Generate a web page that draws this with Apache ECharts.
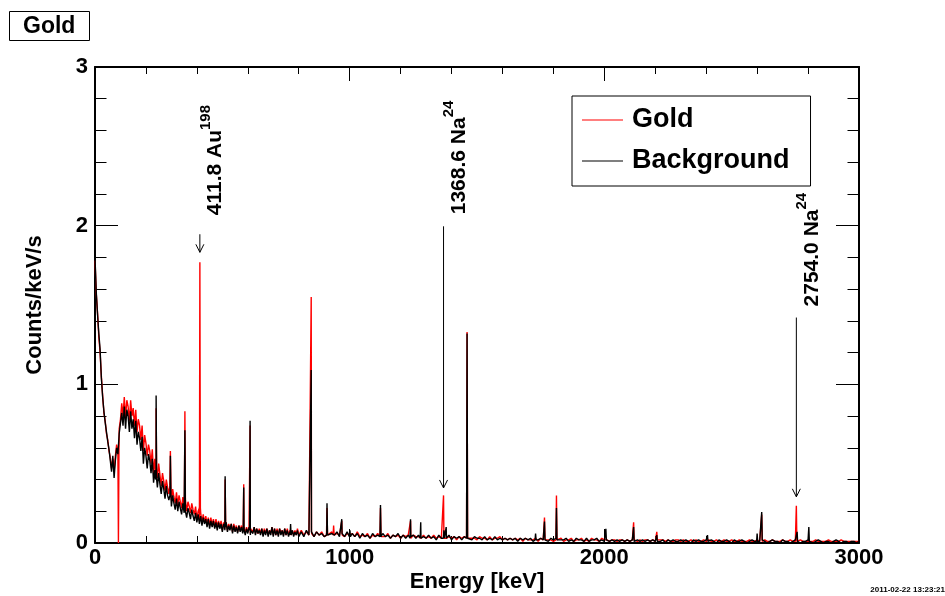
<!DOCTYPE html>
<html>
<head>
<meta charset="utf-8">
<script src="https://cdn.jsdelivr.net/npm/echarts@6/dist/echarts.min.js"></script>
<style>
  html, body { margin: 0; padding: 0; background: #fff; }
  #chart { width: 945px; height: 596px; }
</style>
</head>
<body>
<div id="chart"></div>
<script>
const FONT = '"Liberation Sans", Arial, Helvetica, sans-serif';

// Continuum, 0–800 keV in 5 keV steps (counts/keV/s)
const lowStart = 0, lowStep = 5;
const goldLow = [
  1.78,1.57,1.45,1.30,1.20,1.05,0.93,0.82,0.77,0.69,0.65,0.58,0.54,0.47,0.53,0.45,0.55,0.62,0.58,0.72,
  0.78,0.88,0.80,0.92,0.79,0.90,0.86,0.77,0.90,0.80,0.85,0.74,0.84,0.70,0.78,0.74,0.65,0.74,0.58,0.68,
  0.63,0.55,0.62,0.58,0.50,0.59,0.44,0.53,0.48,0.41,0.50,0.43,0.36,0.44,0.39,0.33,0.40,0.35,0.31,0.37,
  0.27,0.34,0.29,0.25,0.32,0.24,0.30,0.26,0.22,0.29,0.23,0.27,0.20,0.26,0.23,0.19,0.25,0.21,0.18,0.23,
  0.15,0.20,0.14,0.19,0.13,0.18,0.13,0.17,0.12,0.16,0.11,0.16,0.11,0.15,0.10,0.15,0.10,0.14,0.10,0.14,
  0.08,0.13,0.09,0.13,0.08,0.12,0.09,0.12,0.07,0.12,0.08,0.11,0.07,0.11,0.08,0.11,0.07,0.10,0.06,0.10,
  0.07,0.10,0.06,0.10,0.07,0.10,0.06,0.09,0.06,0.09,0.06,0.09,0.05,0.09,0.06,0.09,0.05,0.08,0.06,0.10,
  0.05,0.09,0.05,0.09,0.05,0.09,0.06,0.08,0.05,0.09,0.05,0.09,0.05,0.08,0.05,0.08,0.05,0.08,0.05,0.09,0.05
];
const bkgLow = [
  1.80,1.58,1.44,1.32,1.22,1.04,0.92,0.83,0.76,0.70,0.64,0.59,0.52,0.45,0.55,0.41,0.52,0.60,0.56,0.69,
  0.70,0.82,0.74,0.86,0.72,0.84,0.80,0.70,0.83,0.72,0.78,0.66,0.77,0.62,0.70,0.66,0.58,0.67,0.50,0.60,
  0.55,0.47,0.56,0.52,0.44,0.53,0.38,0.46,0.42,0.35,0.44,0.37,0.31,0.39,0.34,0.28,0.36,0.30,0.27,0.33,
  0.23,0.30,0.25,0.21,0.28,0.20,0.26,0.22,0.18,0.25,0.19,0.23,0.16,0.22,0.19,0.15,0.21,0.17,0.14,0.19,
  0.13,0.18,0.12,0.17,0.11,0.16,0.12,0.15,0.10,0.15,0.09,0.14,0.10,0.14,0.09,0.13,0.08,0.13,0.09,0.12,
  0.07,0.12,0.08,0.13,0.07,0.11,0.08,0.12,0.06,0.11,0.07,0.10,0.06,0.11,0.07,0.10,0.06,0.10,0.05,0.09,
  0.06,0.10,0.05,0.09,0.06,0.10,0.05,0.09,0.06,0.08,0.05,0.09,0.04,0.08,0.05,0.09,0.04,0.08,0.05,0.10,
  0.04,0.09,0.05,0.08,0.04,0.09,0.05,0.08,0.04,0.09,0.05,0.08,0.04,0.07,0.05,0.08,0.04,0.07,0.05,0.08,0.04
];

// Continuum, 810–3000 keV in 10 keV steps
const highStart = 810, highStep = 10;
const goldHigh = [
  0.08,0.05,0.07,0.05,0.08,0.04,0.07,0.05,0.07,0.04,0.06,0.05,0.07,0.04,0.06,0.05,0.07,0.04,0.06,0.05,
  0.06,0.04,0.07,0.04,0.05,0.04,0.06,0.03,0.05,0.04,0.06,0.03,0.05,0.04,0.06,0.03,0.05,0.04,0.05,0.03,
  0.05,0.04,0.05,0.03,0.05,0.04,0.04,0.03,0.05,0.03,0.04,0.03,0.05,0.03,0.04,0.03,0.05,0.03,0.04,0.03,
  0.04,0.02,0.04,0.03,0.04,0.02,0.04,0.03,0.03,0.02,0.04,0.03,0.03,0.02,0.04,0.02,0.03,0.03,0.04,0.02,
  0.03,0.02,0.03,0.02,0.03,0.02,0.03,0.01,0.03,0.02,0.02,0.02,0.03,0.01,0.03,0.02,0.03,0.02,0.02,0.01,
  0.02,0.02,0.03,0.01,0.02,0.02,0.03,0.01,0.02,0.02,0.03,0.01,0.02,0.01,0.03,0.02,0.02,0.01,0.03,0.02,
  0.02,0.01,0.02,0.02,0.01,0.02,0.02,0.01,0.02,0.01,0.02,0.02,0.01,0.02,0.01,0.02,0.02,0.01,0.02,0.01,
  0.01,0.02,0.02,0.01,0.02,0.01,0.01,0.02,0.02,0.01,0.02,0.01,0.01,0.02,0.01,0.02,0.01,0.01,0.02,0.01,
  0.02,0.01,0.01,0.02,0.01,0.01,0.02,0.01,0.01,0.02,0.01,0.01,0.02,0.01,0.01,0.01,0.02,0.01,0.01,0.02,
  0.01,0.01,0.02,0.01,0.01,0.02,0.01,0.01,0.01,0.02,0.01,0.01,0.02,0.01,0.01,0.01,0.02,0.01,0.01,0.01,
  0.01,0.01,0.02,0.01,0.01,0.01,0.01,0.02,0.01,0.01,0.01,0.01,0.02,0.01,0.01,0.01,0.01,0.01,0.01,0.01
];
const bkgHigh = [
  0.07,0.04,0.08,0.05,0.07,0.04,0.07,0.05,0.06,0.04,0.07,0.04,0.06,0.05,0.07,0.04,0.06,0.04,0.07,0.04,
  0.06,0.04,0.06,0.03,0.06,0.04,0.05,0.03,0.06,0.04,0.05,0.03,0.06,0.04,0.05,0.03,0.05,0.04,0.06,0.03,
  0.05,0.03,0.05,0.04,0.05,0.03,0.05,0.03,0.04,0.03,0.05,0.03,0.04,0.02,0.05,0.03,0.04,0.03,0.05,0.02,
  0.04,0.03,0.04,0.02,0.04,0.03,0.04,0.02,0.04,0.03,0.03,0.02,0.04,0.02,0.03,0.02,0.04,0.02,0.03,0.02,
  0.03,0.02,0.03,0.02,0.03,0.01,0.03,0.02,0.03,0.02,0.03,0.01,0.03,0.02,0.03,0.02,0.02,0.01,0.03,0.02,
  0.03,0.01,0.02,0.02,0.03,0.01,0.02,0.01,0.03,0.02,0.02,0.01,0.03,0.01,0.02,0.02,0.03,0.01,0.02,0.01,
  0.02,0.01,0.02,0.01,0.02,0.01,0.02,0.01,0.02,0.01,0.02,0.01,0.02,0.01,0.02,0.01,0.02,0.01,0.02,0.01,
  0.02,0.01,0.02,0.00,0.02,0.01,0.02,0.01,0.01,0.02,0.01,0.02,0.01,0.00,0.02,0.01,0.02,0.01,0.01,0.02,
  0.01,0.02,0.01,0.00,0.02,0.01,0.01,0.02,0.01,0.00,0.02,0.01,0.01,0.02,0.01,0.00,0.01,0.02,0.01,0.01,
  0.01,0.02,0.01,0.00,0.01,0.02,0.01,0.01,0.00,0.02,0.01,0.01,0.00,0.01,0.02,0.01,0.00,0.01,0.01,0.02,
  0.01,0.00,0.01,0.02,0.01,0.00,0.01,0.01,0.00,0.01,0.02,0.01,0.00,0.01,0.01,0.00,0.01,0.01,0.00,0.01
];

// Gamma lines: [energy keV, level beside the line, line top]
const goldLines = [
  [92, 0.55, 0.00], [240, 0.45, 0.85], [296, 0.36, 0.58], [353, 0.26, 0.83],
  [411.8, 0.22, 1.77], [511, 0.11, 0.40], [584, 0.09, 0.37], [609, 0.09, 0.74],
  [849, 0.06, 1.55], [911, 0.05, 0.22], [937, 0.05, 0.11], [969, 0.05, 0.14],
  [1121, 0.04, 0.22], [1239, 0.04, 0.14], [1368.6, 0.03, 0.30], [1461, 0.03, 1.33],
  [1593, 0.03, 0.05], [1765, 0.02, 0.16], [1812, 0.02, 0.30], [2115, 0.02, 0.13],
  [2206, 0.02, 0.07], [2618, 0.01, 0.18], [2754.0, 0.01, 0.235]
];
const bkgLines = [
  [240, 0.40, 0.93], [296, 0.30, 0.55], [353, 0.20, 0.71], [511, 0.10, 0.42],
  [584, 0.08, 0.35], [609, 0.08, 0.77], [768, 0.05, 0.12], [849, 0.06, 1.09],
  [911, 0.05, 0.25], [969, 0.05, 0.15], [1001, 0.04, 0.08], [1121, 0.04, 0.24],
  [1239, 0.03, 0.15], [1279, 0.03, 0.13], [1370, 0.03, 0.08], [1379, 0.03, 0.10],
  [1461, 0.03, 1.32], [1730, 0.02, 0.06], [1765, 0.02, 0.135], [1812, 0.02, 0.22],
  [2006, 0.02, 0.09], [2115, 0.01, 0.10], [2206, 0.01, 0.05], [2405, 0.01, 0.05],
  [2600, 0.01, 0.06], [2618, 0.01, 0.195], [2757, 0.01, 0.07], [2803, 0.01, 0.10]
];

// Identified lines: energy, label, isotope mass number, arrow start / tip, label foot (counts/keV/s)
const markerEnergies = [411.8, 1368.6, 2754.0];
const markerLabels = ['411.8 Au', '1368.6 Na', '2754.0 Na'];
const markerMass = ['198', '24', '24'];
const markerArrowFrom = [1.946, 1.996, 1.421];
const markerArrowTo = [1.832, 0.347, 0.291];
const markerTextAt = [2.066, 2.072, 1.491];

// Axis ticks
const xTicks = [0, 1000, 2000, 3000];
const yTicks = [0, 1, 2, 3];

function spectrum(low, high, lines) {
  const pts = [];
  low.forEach((v, i) => pts.push([lowStart + i * lowStep, v]));
  high.forEach((v, i) => pts.push([highStart + i * highStep, v]));
  lines.forEach(([e, foot, top]) => {
    pts.push([e - 2, foot], [e, top], [e + 2, foot]);
  });
  pts.sort((a, b) => a[0] - b[0]);
  return pts;
}

const chart = echarts.init(document.getElementById('chart'), null, { renderer: 'canvas' });

const tickColor = '#000';
function valueAxis(ticks, extra) {
  return Object.assign({
    type: 'value',
    min: ticks[0],
    max: ticks[ticks.length - 1],
    interval: ticks[1] - ticks[0],
    splitLine: { show: false },
    axisLine: { show: true, onZero: false, lineStyle: { color: '#000', width: 2 } },
    axisLabel: { show: false },
    nameMoveOverlap: false
  }, extra);
}

const labelStyle = {
  fontFamily: FONT, fontSize: 22, fontWeight: 'bold', color: '#000',
  formatter: v => String(v)
};

const option = {
  animation: false,
  backgroundColor: '#fff',
  title: {
    text: 'Gold',
    left: 9, top: 11,
    padding: [3, 14, 2, 14],
    borderColor: '#000', borderWidth: 1,
    textStyle: { fontFamily: FONT, fontSize: 23, fontWeight: 'bold', color: '#000', lineHeight: 25 }
  },
  legend: {
    data: ['Gold', 'Background'],
    orient: 'vertical',
    left: 572, top: 96,
    padding: [9, 21, 10, 10],
    itemGap: 11,
    itemWidth: 41, itemHeight: 1,
    icon: 'rect',
    borderColor: '#000', borderWidth: 1,
    backgroundColor: '#fff',
    selectedMode: false,
    textStyle: { fontFamily: FONT, fontSize: 27, fontWeight: 'bold', color: '#000', lineHeight: 30, padding: [0, 0, 0, 4] }
  },
  grid: { left: 95, right: 86, top: 67, bottom: 53, containLabel: false, outerBoundsMode: 'none' },
  xAxis: [
    valueAxis(xTicks, {
      position: 'bottom',
      name: 'Energy [keV]',
      nameLocation: 'middle',
      nameGap: 28,
      nameTextStyle: { fontFamily: FONT, fontSize: 22, fontWeight: 'bold', color: '#000' },
      axisTick: { show: true, inside: true, length: 14, lineStyle: { color: tickColor, width: 1 } },
      minorTick: { show: true, splitNumber: 5, length: 7, lineStyle: { color: tickColor, width: 1 } },
      axisLabel: Object.assign({ show: true, margin: 4 }, labelStyle)
    }),
    valueAxis(xTicks, {
      position: 'top',
      axisTick: { show: true, inside: true, length: 14, lineStyle: { color: tickColor, width: 1 } },
      minorTick: { show: true, splitNumber: 5, length: 7, lineStyle: { color: tickColor, width: 1 } }
    })
  ],
  yAxis: [
    valueAxis(yTicks, {
      position: 'left',
      name: 'Counts/keV/s',
      nameLocation: 'middle',
      nameRotate: 90,
      nameGap: 49,
      nameTextStyle: { fontFamily: FONT, fontSize: 22, fontWeight: 'bold', color: '#000' },
      axisTick: { show: true, inside: true, length: 23, lineStyle: { color: tickColor, width: 1 } },
      minorTick: { show: true, splitNumber: 5, length: 11.5, lineStyle: { color: tickColor, width: 1 } },
      axisLabel: Object.assign({ show: true, margin: 7 }, labelStyle)
    }),
    valueAxis(yTicks, {
      position: 'right',
      axisTick: { show: true, inside: true, length: 23, lineStyle: { color: tickColor, width: 1 } },
      minorTick: { show: true, splitNumber: 5, length: 11.5, lineStyle: { color: tickColor, width: 1 } }
    })
  ],
  graphic: [{
    type: 'text',
    right: 0, bottom: 2,
    style: { text: '2011-02-22 13:23:21', font: 'bold 8px ' + FONT, fill: '#000' }
  }],
  series: [
    {
      name: 'Gold', type: 'line',
      data: spectrum(goldLow, goldHigh, goldLines),
      showSymbol: false, symbol: 'none',
      itemStyle: { color: '#ff0000' },
      lineStyle: { color: '#ff0000', width: 1.4 },
      clip: true, silent: true
    },
    {
      name: 'Background', type: 'line',
      data: spectrum(bkgLow, bkgHigh, bkgLines),
      showSymbol: false, symbol: 'none',
      itemStyle: { color: '#000000' },
      lineStyle: { color: '#000000', width: 1.4 },
      clip: true, silent: true
    },
    {
      name: 'markers', type: 'custom',
      silent: true, clip: false, z: 5,
      data: markerEnergies.map((e, i) => [e, markerArrowFrom[i], markerArrowTo[i], markerTextAt[i]]),
      encode: { x: 0, y: [1, 2, 3] },
      renderItem(params, api) {
        const i = params.dataIndex;
        const e = api.value(0);
        const a = api.coord([e, api.value(1)]);
        const b = api.coord([e, api.value(2)]);
        const t = api.coord([e, api.value(3)]);
        const hw = 4, hl = 8;
        return {
          type: 'group',
          children: [
            { type: 'line', shape: { x1: a[0], y1: a[1], x2: b[0], y2: b[1] },
              style: { stroke: '#000', lineWidth: 1 } },
            { type: 'polyline', shape: { points: [[b[0] - hw, b[1] - hl], [b[0], b[1]], [b[0] + hw, b[1] - hl]] },
              style: { stroke: '#000', lineWidth: 1, fill: null } },
            { type: 'text', x: t[0] - 2, y: t[1], rotation: Math.PI / 2,
              style: {
                text: '{m|' + markerLabels[i] + '}{s|' + markerMass[i] + '}',
                align: 'left', verticalAlign: 'top',
                rich: {
                  m: { fontFamily: FONT, fontSize: 21, fontWeight: 'bold', fill: '#000', lineHeight: 28, verticalAlign: 'bottom' },
                  s: { fontFamily: FONT, fontSize: 15, fontWeight: 'bold', fill: '#000', lineHeight: 15, verticalAlign: 'top' }
                }
              } }
          ]
        };
      }
    }
  ]
};

chart.setOption(option);
</script>
</body>
</html>
